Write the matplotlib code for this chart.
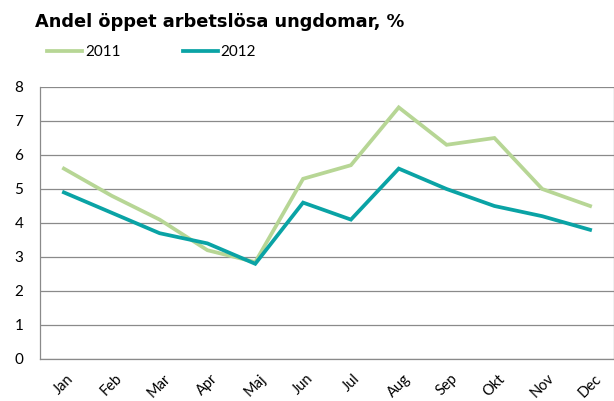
import matplotlib
matplotlib.use("Agg")
import matplotlib.pyplot as plt
from matplotlib.lines import Line2D

plt.rcParams["font.family"] = ["Lato", "DejaVu Sans"]

months = ["Jan", "Feb", "Mar", "Apr", "Maj", "Jun", "Jul", "Aug", "Sep", "Okt", "Nov", "Dec"]
y2011 = [5.6, 4.8, 4.1, 3.2, 2.85, 5.3, 5.7, 7.4, 6.3, 6.5, 5.0, 4.5]
y2012 = [4.9, 4.3, 3.7, 3.4, 2.8, 4.6, 4.1, 5.6, 5.0, 4.5, 4.2, 3.8]
yticks = [0, 1, 2, 3, 4, 5, 6, 7, 8]

c2011 = "#b7d695"
c2012 = "#0aa3a5"
grid_c = "#8a8a8a"

fig = plt.figure(figsize=[6.14, 4.01], dpi=100)
ax = fig.add_axes([40 / 614, 1 - 359 / 401, 574 / 614, 272 / 401])

xs = list(range(len(months)))
ax.plot(xs, y2011, color=c2011, linewidth=2.7, solid_joinstyle="miter", zorder=3)
ax.plot(xs, y2012, color=c2012, linewidth=2.7, solid_joinstyle="miter", zorder=4)

ax.set_xlim(-0.5, len(months) - 0.5)
ax.set_ylim(0, 8)
ax.set_yticks(yticks)
ax.set_yticklabels([str(t) for t in yticks], fontsize=11)
ax.set_xticks(xs)
ax.set_xticklabels(months, rotation=45, fontsize=10.5, ha="center", va="top")
ax.tick_params(axis="x", length=0, pad=9)
ax.tick_params(axis="y", length=0, pad=12)
ax.yaxis.grid(True, color=grid_c, linewidth=0.9)
ax.set_axisbelow(True)
for s in ax.spines.values():
    s.set_color(grid_c)
    s.set_linewidth(0.9)
ax.spines["top"].set_visible(False)

fig.text(35 / 614, 1 - 22 / 401, "Andel öppet arbetslösa ungdomar, %",
         fontsize=12.8, fontweight="bold", family="DejaVu Sans", va="center", ha="left")

handles = [Line2D([], [], color=c2011, linewidth=2.7), Line2D([], [], color=c2012, linewidth=2.7)]
fig.legend(handles, ["2011", "2012"], loc="center left", bbox_to_anchor=(47 / 614, 1 - 52 / 401),
           ncol=2, frameon=False, fontsize=11, handlelength=2.3, handletextpad=0.2,
           columnspacing=4.05, borderaxespad=0, borderpad=0)

plt.savefig("out.png", dpi=100)
